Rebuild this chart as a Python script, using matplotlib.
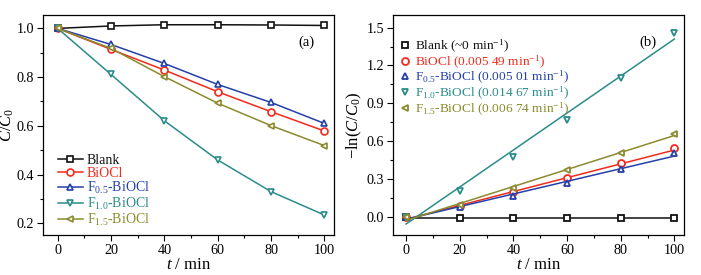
import matplotlib
matplotlib.use("Agg")
import matplotlib.pyplot as plt
import numpy as np
from matplotlib.ticker import MultipleLocator

plt.rcParams['font.family'] = ['Liberation Serif', 'DejaVu Serif']
plt.rcParams['mathtext.fontset'] = 'custom'
plt.rcParams['mathtext.rm'] = 'Liberation Serif'
plt.rcParams['mathtext.it'] = 'Liberation Serif:italic'
plt.rcParams['font.size'] = 10

t = [0, 20, 40, 60, 80, 100]
labels = ["Blank", "BiOCl", "F$_{0.5}$-BiOCl", "F$_{1.0}$-BiOCl", "F$_{1.5}$-BiOCl"]
rate_text = ["(~0 min$^{-1}$)", "(0.005 49 min$^{-1}$)", "(0.005 01 min$^{-1}$)",
             "(0.014 67 min$^{-1}$)", "(0.006 74 min$^{-1}$)"]
colors = ["#111111", "#f22a1c", "#2440a8", "#2a8c8a", "#8a8a2e"]
markers = ["s", "o", "^", "v", "<"]

# panel (a): C/C0
c_blank = [1.0, 1.010, 1.015, 1.015, 1.014, 1.012]
c_biocl = [1.0, 0.914, 0.829, 0.740, 0.658, 0.579]
c_f05 = [1.0, 0.934, 0.856, 0.770, 0.696, 0.610]
c_f10 = [1.0, 0.811, 0.621, 0.460, 0.330, 0.234]
c_f15 = [1.0, 0.918, 0.802, 0.693, 0.601, 0.519]

# panel (b): -ln(C/C0)
l_blank = [0.0, -0.010, -0.013, -0.013, -0.012, -0.012]
l_biocl = [0.0, 0.082, 0.200, 0.304, 0.423, 0.548]
l_f05 = [0.0, 0.074, 0.167, 0.270, 0.376, 0.503]
l_f10 = [0.0, 0.206, 0.476, 0.767, 1.098, 1.455]
l_f15 = [0.0, 0.093, 0.225, 0.370, 0.508, 0.656]

# fitted kinetic lines: slope (min^-1) and intercept
slopes = [0.0, 0.00549, 0.00501, 0.01467, 0.00674]
intercepts = [-0.010, -0.020, -0.020, -0.058, -0.030]

cdata = [c_blank, c_biocl, c_f05, c_f10, c_f15]
ldata = [l_blank, l_biocl, l_f05, l_f10, l_f15]

fig = plt.figure(figsize=(7.01, 2.75), dpi=100)
W, H = 701, 275
axa = fig.add_axes([43 / W, 40 / H, 291 / W, 220 / H])
axb = fig.add_axes([393 / W, 40 / H, 291 / W, 220 / H])

for ax in (axa, axb):
    ax.xaxis.set_major_locator(MultipleLocator(20))
    ax.xaxis.set_minor_locator(MultipleLocator(10))
    ax.tick_params(which='both', direction='out', top=False, right=False, labelsize=10.2, pad=2.5)
    ax.tick_params(which='major', length=4, width=0.8)
    ax.tick_params(which='minor', length=2.2, width=0.8)
    for s in ax.spines.values():
        s.set_linewidth(0.9)
    ax.set_xlabel("$t$ / min", labelpad=0, fontsize=12)

for i in range(5):
    axa.plot(t, cdata[i], color=colors[i], marker=markers[i], ms=5, mfc='white',
             mec=colors[i], mew=1.2, lw=1.1, label=labels[i])
axa.set_xlim(-5.5, 103.6)
axa.set_ylim(0.152, 1.055)
axa.yaxis.set_major_locator(MultipleLocator(0.2))
axa.yaxis.set_minor_locator(MultipleLocator(0.1))
axa.set_ylabel("$C/C_0$", fontsize=12)
axa.yaxis.set_label_coords(-0.092, 0.5)
axa.text(0.907, 0.877, "(a)", transform=axa.transAxes, ha='center', va='center', fontsize=10.5)
leg = axa.legend(loc='lower left', bbox_to_anchor=(0.012, -0.02), frameon=False, fontsize=10,
                 handlelength=1.8, handletextpad=0.3, labelspacing=0.0, borderaxespad=0.4)
for txt, c in zip(leg.get_texts(), colors):
    txt.set_color(c)

xfit = np.array([0, 100])
for i in range(5):
    axb.plot(xfit, intercepts[i] + slopes[i] * xfit, color=colors[i], lw=1.1)
    axb.plot(t, ldata[i], ls='none', marker=markers[i], ms=5, mfc='white',
             mec=colors[i], mew=1.3, label=labels[i] + " " + rate_text[i])
axb.set_xlim(-4.85, 103.6)
axb.set_ylim(-0.145, 1.6)
axb.yaxis.set_major_locator(MultipleLocator(0.3))
axb.yaxis.set_minor_locator(MultipleLocator(0.15))
axb.set_ylabel("\u2212ln($C/C_0$)", fontsize=12)
axb.yaxis.set_label_coords(-0.098, 0.5)
axb.text(0.876, 0.877, "(b)", transform=axb.transAxes, ha='center', va='center', fontsize=10.5)
legb = axb.legend(loc='upper left', bbox_to_anchor=(-0.015, 0.945), frameon=False, fontsize=9.6,
                  handlelength=0.8, handletextpad=0.4, labelspacing=-0.1, borderaxespad=0.4,
                  markerscale=1.0)
for txt, c in zip(legb.get_texts(), colors):
    txt.set_color(c)

fig.savefig("out.png", dpi=100)
